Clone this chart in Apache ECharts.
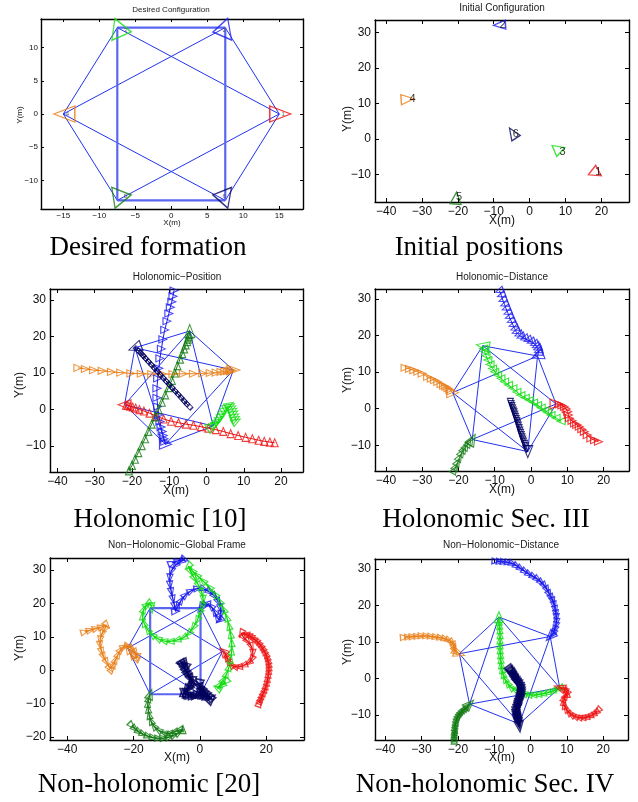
<!DOCTYPE html>
<html><head><meta charset="utf-8">
<script src="https://cdn.jsdelivr.net/npm/echarts@6/dist/echarts.min.js"></script>
<style>html,body{margin:0;padding:0;background:#fff}#c{width:638px;height:802px}</style>
</head><body><div id="c"></div>
<script>
// ---------------- DATA ----------------
const robotLabels = ['1','2','3','4','5','6'];
const panelTitles = ['Desired Configuration','Initial Configuration','Holonomic\u2212Position','Holonomic\u2212Distance','Non\u2212Holonomic\u2212Global Frame','Non\u2212Holonomic\u2212Distance'];
const captions = ['Desired formation','Initial positions','Holonomic [10]','Holonomic Sec. III','Non-holonomic [20]','Non-holonomic Sec. IV'];
const axisNameX = 'X(m)';
const axisNameY = 'Y(m)';
// formation graph edges (robot index pairs)
const edges = [[0,1],[1,2],[2,3],[3,4],[4,5],[5,0],[3,1],[3,5],[0,2],[0,4],[2,4],[1,5]];
// formation vertices (robots 1..6) per panel
const desiredPos = [[15,0],[7.5,13],[-7.5,13],[-15,0],[-7.5,-13],[7.5,-13]];
const initialPos = [[18.3,-8.8],[-8.4,32.1],[7.8,-3.5],[-34,11.2],[-20.5,-16.6],[-4.7,1.7]];
const holoPosFinal = [[-22,1.3],[-11,-9.5],[1.8,-4.5],[7.2,10.8],[-4.5,21.5],[-19.2,16.9]];
const holoDistFinal = [[6.9,1.3],[1.8,14.4],[-13.3,17.2],[-21.6,4.4],[-16.2,-8.4],[-0.9,-11.7]];
const nonHoloGlobalFinal = [[6.8,5.6],[0.2,18.6],[-15,18.6],[-21.8,6.6],[-15,-7.2],[0.2,-7.2]];
const nonHoloDistFinal = [[8,-2.5],[5.4,11.5],[-8.7,16.8],[-19.6,6.8],[-16.8,-7],[-3.1,-12.4]];

// Holonomic - Position trajectories
const hpRed = [[18.3,-9.1],[17,-8.9],[15.5,-8.7],[14,-8.4],[12.3,-8],[10.5,-7.6],[8.5,-7.1],[6.5,-6.6],[4.5,-6],[2.5,-5.5],[0.5,-5.1],[-1.5,-4.7],[-3.5,-4.3],[-5.5,-4],[-7.5,-3.6],[-9.5,-3.2],[-11.5,-2.6],[-13.5,-1.8],[-15.3,-1],[-16.8,-0.4],[-18,0],[-19,0.4],[-19.8,0.7],[-20.5,0.9],[-21.1,1.1],[-21.6,1.2],[-22,1.3]];
const hpBlue = [[-8.7,32.6],[-9,31],[-9.3,29.5],[-9.7,28],[-10.1,26.3],[-10.6,24.2],[-11.2,21.8],[-11.7,19.2],[-12.1,16.6],[-12.5,14],[-12.8,11.3],[-13.1,8.5],[-13.3,5.8],[-13.3,3.2],[-13.1,0.8],[-12.8,-1.5],[-12.5,-3.3],[-12.2,-4.8],[-11.9,-6],[-11.6,-7.1],[-11.4,-8],[-11.2,-8.8],[-11,-9.5]];
const hpGreen = [[8,-3.2],[7.8,-2.5],[7.6,-1.8],[7.3,-1],[7.1,-0.3],[6.8,0.4],[6.5,1],[6.1,1.3],[5.6,0.8],[5.1,0],[4.6,-0.9],[4.1,-1.7],[3.6,-2.5],[3.1,-3.2],[2.6,-3.8],[2.2,-4.2],[1.8,-4.5]];
const hpOrange = [[-34.5,11.4],[-32.5,11.1],[-30.3,10.8],[-28,10.6],[-25.5,10.3],[-23,10.1],[-20.3,9.9],[-17.5,9.8],[-14.7,9.7],[-11.8,9.7],[-9,9.7],[-6.2,9.8],[-3.5,9.8],[-1,9.9],[1,10],[2.6,10.1],[3.9,10.3],[4.9,10.4],[5.7,10.5],[6.3,10.6],[6.8,10.7],[7.2,10.8]];
const hpDkGreen = [[-20.8,-16.8],[-20,-15.3],[-19.2,-13.6],[-18.3,-11.8],[-17.4,-9.9],[-16.5,-8],[-15.6,-6],[-14.7,-4],[-13.8,-2],[-12.9,0],[-12,2],[-11.1,4],[-10.2,6],[-9.3,8],[-8.5,10],[-7.8,12],[-7.1,13.8],[-6.5,15.3],[-6,16.6],[-5.6,17.7],[-5.2,18.6],[-5,19.3],[-4.8,19.9],[-4.6,20.5],[-4.5,21.5]];
const hpNavy = [[-4.8,1],[-5.6,1.9],[-6.4,2.8],[-7.2,3.7],[-8,4.6],[-8.8,5.5],[-9.6,6.4],[-10.4,7.3],[-11.2,8.2],[-12,9.1],[-12.8,10],[-13.6,10.9],[-14.4,11.8],[-15.2,12.7],[-16,13.6],[-16.7,14.4],[-17.3,15.1],[-17.9,15.7],[-18.5,16.3],[-19.2,16.9]];

// Holonomic - Distance trajectories
const hdRed = [[18.6,-9],[17.5,-8.6],[16.5,-8.1],[15.5,-7.2],[14.7,-6.3],[14,-5.6],[13.3,-4.9],[12.6,-4.4],[12,-4],[11.3,-3.3],[10.6,-2.6],[10.3,-1.7],[10.1,-0.8],[9.7,-0.1],[9.2,0.5],[8.5,0.9],[7.8,1.2],[6.9,1.3]];
const hdBlue = [[-8.7,32.2],[-8.2,31],[-7.8,29.7],[-7.3,28.5],[-6.9,27.4],[-6.4,26.2],[-6,25.1],[-5.5,24],[-5,22.9],[-4.5,21.9],[-4.1,21],[-3.4,20.3],[-2.8,19.7],[-1.8,19.2],[-0.9,18.8],[0,18.3],[0.9,17.7],[1.4,17.1],[1.8,16.5],[2,15.8],[2,15.1],[1.8,14.4]];
const hdGreen = [[8.3,-3.4],[6.9,-2.5],[5.5,-1.7],[4.6,-1],[3.7,-0.4],[2.8,0.3],[1.8,1],[0.7,1.7],[-0.4,2.4],[-1.6,3],[-2.8,3.7],[-3.9,4.6],[-5,5.6],[-6.2,6.5],[-7.3,7.4],[-8.3,8.3],[-9.2,9.2],[-10,10.1],[-10.6,11],[-11.3,12.1],[-11.9,13.3],[-12.4,14.5],[-12.8,15.6],[-13.1,16.4],[-13.3,17.2]];
const hdOrange = [[-34.7,11.2],[-33.5,10.9],[-32.3,10.5],[-31.2,10.1],[-30,9.6],[-28.5,8.7],[-27.5,8.2],[-26.6,7.8],[-25.7,7.3],[-24.8,6.7],[-24.1,6.3],[-23.5,6],[-22.9,5.6],[-22.4,5.2],[-22,4.8],[-21.6,4.4]];
const hdDkGreen = [[-21.1,-16.7],[-20.7,-15.8],[-20.2,-14.6],[-19.7,-13.3],[-19.1,-12],[-18.5,-11],[-17.9,-10.2],[-17.2,-9.4],[-16.6,-8.8],[-16.2,-8.4]];
const hdNavy = [[-5.7,1.9],[-5.5,1.3],[-5.3,0.7],[-5.1,0.1],[-4.9,-0.5],[-4.7,-1],[-4.5,-1.6],[-4.3,-2.2],[-4.1,-2.8],[-3.9,-3.4],[-3.7,-4],[-3.5,-4.6],[-3.3,-5.3],[-3.1,-6],[-2.9,-6.6],[-2.7,-7.2],[-2.5,-7.8],[-2.3,-8.4],[-2.1,-9],[-1.8,-9.6],[-1.6,-10.2],[-1.2,-11],[-0.9,-11.7]];

// Non-holonomic - Global frame trajectories
const ngRed = [[17.9,-9.8],[18.2,-9],[18.5,-8.3],[18.9,-7.4],[19.3,-6.5],[19.7,-5.5],[20,-4.5],[20.3,-3.4],[20.5,-2.3],[20.7,-1.1],[20.8,0],[20.8,1],[20.7,2],[20.5,3],[20.2,4],[19.8,4.9],[19.3,5.8],[18.8,6.7],[18.2,7.5],[17.5,8.3],[16.8,9],[16,9.6],[15.2,10.2],[14.5,10.5],[13.7,10.8],[12.5,11],[13.2,9.8],[14.5,8.6],[15.6,7],[16,5],[15.6,3.2],[14.6,2.2],[13.1,1.4],[11.6,1],[10.3,1.1],[9.3,1.7],[8.6,2.8],[8.1,4],[7.6,5],[7,5.6]];
const ngBlue = [[-8.4,32.1],[-6.5,32.8],[-4.6,33.2],[-5.8,32.5],[-7.5,31.3],[-8.7,29.6],[-9.1,27.6],[-9,25.5],[-8.6,23.4],[-8.1,21.2],[-7.6,19.1],[-7.3,17.6],[-6.6,19.2],[-5.6,21],[-4.3,22.6],[-2.6,23.8],[-0.6,24.5],[1.3,24.3],[3,23.4],[4.5,22.1],[5.6,20.4],[6.2,18.5],[6.3,16.6],[6,15],[5.2,15.8],[4.4,17.6],[3.3,19.2],[2,19.9],[0.8,19.3],[0.3,18.6]];
const ngGreen = [[7.8,-3.5],[6.6,-4.6],[5.3,-5.4],[6.1,-4.3],[7.2,-2.8],[8.1,-1],[8.8,1],[9.3,3.3],[9.6,5.8],[9.6,8.3],[9.3,10.8],[8.8,13.3],[8.1,15.8],[7.2,18.2],[6,20.6],[4.5,22.8],[2.8,24.9],[0.9,26.8],[-1,28.5],[-2.4,29.9],[-3.5,31.2],[-2.8,29.5],[-1.6,27.4],[-0.3,25.3],[0.6,23.2],[1,21.2],[0.7,19.1],[0,17],[-0.8,14.9],[-2,12.8],[-3.4,11],[-5,9.7],[-7,9],[-9,8.6],[-11,8.8],[-12.8,9.5],[-14.4,10.6],[-15.8,12.2],[-16.9,14.2],[-17.3,16.3],[-16.9,18.3],[-15.9,19.6],[-14.8,19.9],[-14.6,18.6]];
const ngOrange = [[-34.7,11.5],[-33,12],[-31.2,12.5],[-29.5,13],[-28.1,13.5],[-28.8,12.2],[-29.6,10.8],[-30.1,9],[-30.1,7.5],[-29.6,5.5],[-29,4],[-28.1,2.3],[-27.1,0.5],[-26.5,0.3],[-26,1.8],[-25.4,3.2],[-24.6,4.8],[-23.8,6.2],[-22.8,7],[-21.6,7.2],[-20.4,6.4],[-19.4,5.2],[-18.8,3.8],[-19.5,3.5],[-20.5,4.6],[-21.6,6.5]];
const ngDkGreen = [[-20.5,-16.6],[-19.5,-17.6],[-18.3,-18.5],[-17,-19.2],[-15.5,-19.8],[-14,-20.2],[-12.4,-20.4],[-10.8,-20.3],[-9.2,-20],[-7.7,-19.4],[-6.3,-18.7],[-5.1,-17.8],[-6.3,-17.9],[-7.8,-18.5],[-9.4,-18.9],[-11,-18.7],[-12.6,-17.9],[-13.9,-16.7],[-14.8,-15.1],[-15.3,-13.4],[-15.6,-11.6],[-15.7,-9.9],[-15.4,-8.4],[-15,-7.2]];
const ngNavy = [[-4.7,1.7],[-5.5,2.3],[-5.2,1.6],[-4.8,1],[-4.4,0.2],[-4,-0.5],[-3.5,-1.3],[-3,-2],[-2.6,-2.8],[-2.2,-3.5],[-2.6,-4.2],[-3,-4.8],[-3.6,-5.4],[-4.2,-6],[-4.8,-7],[-4.2,-7.3],[-3.5,-7.5],[-2.8,-7.6],[-2,-7.6],[-1.2,-7.5],[-0.5,-7.4],[0.4,-7.6],[1.2,-7.8],[1.9,-8],[2.5,-8.3],[3.5,-8.6],[2.9,-7.9],[2.2,-7.2],[1.5,-6.5],[0.8,-5.8],[0.3,-5],[-0.2,-4.3],[0.2,-5.5],[0.5,-6.8]];

// Non-holonomic - Distance trajectories
const ndRed = [[18.4,-8.8],[17.8,-9.4],[17,-9.9],[16.1,-10.3],[15.1,-10.6],[14.1,-10.7],[13.1,-10.6],[12.1,-10.3],[11.2,-9.8],[10.4,-9.1],[9.7,-8.2],[9.2,-7.2],[9.1,-6.2],[9.3,-5.3],[9.8,-4.6],[10.1,-4],[9.8,-3.4],[9.2,-3],[8.6,-2.7],[8,-2.5]];
const ndBlue = [[-9.5,32.1],[-8.3,32],[-7.2,31.9],[-6,31.7],[-4.9,31.4],[-3.7,30.7],[-2.6,30],[-1.4,29.2],[-0.3,28.5],[0.9,27.8],[2,27.1],[3,26.2],[3.9,25.3],[4.6,24.2],[5.2,23],[5.8,22],[6.2,21.1],[6.5,20],[6.8,18.8],[7,17.6],[7.1,16.6],[7.1,15.4],[6.9,14.3],[6.6,13.3],[6.2,12.4],[5.8,11.9],[5.4,11.5]];
const ndGreen = [[8,-2.6],[7,-3],[5.8,-3.5],[4.5,-3.9],[3.2,-4.2],[1.9,-4.4],[0.6,-4.5],[-0.7,-4.4],[-2,-4.1],[-3.2,-3.6],[-4.4,-3],[-5.5,-2.3],[-6.4,-1.2],[-7.1,0],[-7.6,1.3],[-7.9,2.6],[-8.1,3.9],[-8.2,5.3],[-8.3,6.6],[-8.4,7.9],[-8.4,9.2],[-8.4,10.6],[-8.4,12],[-8.5,13.4],[-8.6,14.6],[-8.7,15.7],[-8.7,16.8]];
const ndOrange = [[-34.7,11.3],[-33.5,11.4],[-32.3,11.5],[-31,11.6],[-29.8,11.7],[-28.5,11.6],[-27.2,11.5],[-25.9,11.3],[-24.6,11.1],[-23.4,10.8],[-22.4,10.4],[-21.6,9.8],[-21.2,9],[-21.1,8.3],[-20.8,7.6],[-20.5,7.1],[-19.6,6.8]];
const ndDkGreen = [[-21,-16.8],[-21,-16.2],[-21,-15.6],[-20.9,-15],[-20.9,-14.4],[-20.8,-13.8],[-20.8,-13.2],[-20.6,-12.5],[-20.5,-11.8],[-20.3,-11.1],[-20,-10.5],[-19.7,-10],[-19.3,-9.5],[-18.9,-9.1],[-18.5,-8.7],[-18,-8.3],[-17.6,-7.9],[-17.2,-7.4],[-16.8,-7]];
const ndNavy = [[-5.5,2.3],[-5.2,1.9],[-5,1.6],[-4.7,1.2],[-4.5,0.8],[-4.2,0.4],[-4,0],[-3.7,-0.4],[-3.5,-0.8],[-3.2,-1.2],[-3,-1.7],[-2.8,-2.1],[-2.7,-2.6],[-2.7,-3.1],[-2.7,-3.6],[-2.8,-4.1],[-2.9,-4.6],[-3,-5.1],[-3.2,-5.6],[-3.3,-6.1],[-3.5,-6.6],[-3.6,-7.1],[-3.7,-7.6],[-3.8,-8.1],[-3.9,-8.6],[-3.9,-9.1],[-3.8,-9.6],[-3.7,-10.1],[-3.6,-10.6],[-3.5,-11],[-3.4,-11.4],[-3.3,-11.9],[-3.2,-12.3],[-3.1,-13.1]];

// ---------------- STYLE / LAYOUT ----------------
const robotColors = ['#ee1111','#1a1aee','#11dd11','#e8801a','#137a13','#00005e'];
const edgeColor = '#2233ee';
const FONT = "'Liberation Sans', Arial, Helvetica, sans-serif";
const SERIF = "'Liberation Serif', 'Times New Roman', serif";

const panels = [
  {left:41, top:19, width:262, height:190, xr:[-18.1,18.3], yr:[-14.3,14.3], xs:5, ys:5, fs:8, tx:171, ty:10, tfs:8, cx:148, cy:248, nx:172, ny:223, yx:20, yy:115},
  {left:375, top:20, width:254, height:182, xr:[-43.1,27.7], yr:[-17.7,33.5], xs:10, ys:10, fs:12, tx:502, ty:8, tfs:10, cx:479, cy:248, nx:502, ny:221, yx:348, yy:119},
  {left:50, top:289, width:253, height:183, xr:[-42.0,25.9], yr:[-17.1,33.0], xs:10, ys:10, fs:12, tx:177, ty:277, tfs:10, cx:160, cy:520, nx:176, ny:491, yx:20, yy:385},
  {left:375, top:289, width:254, height:182, xr:[-43.0,27.0], yr:[-17.0,32.7], xs:10, ys:10, fs:12, tx:502, ty:277, tfs:10, cx:486, cy:520, nx:502, ny:490, yx:348, yy:380},
  {left:50, top:558, width:254, height:182, xr:[-45.2,31.4], yr:[-20.9,33.6], xs:20, ys:10, fs:12, tx:177, ty:545, tfs:10, cx:149, cy:785, nx:177, ny:758, yx:20, yy:648},
  {left:375, top:559, width:253, height:181, xr:[-42.8,26.8], yr:[-16.8,32.7], xs:10, ys:10, fs:12, tx:501, ty:545, tfs:10, cx:485, cy:785, nx:502, ny:758, yx:348, yy:652}
];

const grid = [], xAxis = [], yAxis = [], series = [], graphic = [];

function fmt(step) {
  return function (v) {
    const r = Math.round(v / step) * step;
    if (Math.abs(v - r) > 1e-6) return '';
    return r < 0 ? '\u2212' + (-r) : String(r);
  };
}

panels.forEach((p, gi) => {
  grid.push({left:p.left, top:p.top, width:p.width, height:p.height, containLabel:false});
  const tickLen = gi === 0 ? 3 : 4;
  const base = (min, max, step) => ({
    type:'value', gridIndex:gi, min:min, max:max,
    splitNumber: Math.round((max - min) / step),
    axisLine:{show:true, onZero:false, lineStyle:{color:'#000', width:1.4}},
    axisTick:{show:true, inside:true, length:tickLen, lineStyle:{color:'#000', width:1}},
    splitLine:{show:false}
  });
  const lbl = step => ({show:true, formatter:fmt(step), fontSize:p.fs, color:'#111', fontFamily:FONT, margin: gi === 0 ? 3 : 4});
  xAxis.push(Object.assign(base(p.xr[0], p.xr[1], p.xs), {position:'bottom', axisLabel:lbl(p.xs)}));
  xAxis.push(Object.assign(base(p.xr[0], p.xr[1], p.xs), {position:'top', axisLabel:{show:false}}));
  yAxis.push(Object.assign(base(p.yr[0], p.yr[1], p.ys), {position:'left', axisLabel:lbl(p.ys)}));
  yAxis.push(Object.assign(base(p.yr[0], p.yr[1], p.ys), {position:'right', axisLabel:{show:false}}));

  graphic.push({type:'text', x:p.tx, y:p.ty, silent:true, z:10, style:{text:panelTitles[gi], font:p.tfs + 'px ' + FONT, fill:'#1a1a1a', textAlign:'center', textVerticalAlign:'middle'}});
  graphic.push({type:'text', x:p.nx, y:p.ny, silent:true, z:10, style:{text:axisNameX, font:p.fs + 'px ' + FONT, fill:'#111', textAlign:'center', textVerticalAlign:'middle'}});
  graphic.push({type:'text', x:p.yx, y:p.yy, rotation:Math.PI / 2, silent:true, z:10, style:{text:axisNameY, font:p.fs + 'px ' + FONT, fill:'#111', textAlign:'center', textVerticalAlign:'middle'}});
  graphic.push({type:'text', x:p.cx, y:p.cy, silent:true, z:11, style:{text:captions[gi], font:'27px ' + SERIF, fill:'#000', textAlign:'center', textVerticalAlign:'middle'}});
});

const rectEdges = ['1-2','2-4','4-5','5-1'];
function addEdges(gi, pos, rectWide) {
  edges.forEach(e => {
    const key = e[0] + '-' + e[1], key2 = e[1] + '-' + e[0];
    const wide = rectWide && (rectEdges.indexOf(key) >= 0 || rectEdges.indexOf(key2) >= 0);
    series.push({type:'line', xAxisIndex:2*gi, yAxisIndex:2*gi, data:[pos[e[0]], pos[e[1]]],
      symbol:'none', silent:true, animation:false, z:2,
      lineStyle:{color: wide ? '#5a66f2' : edgeColor, width: wide ? 2.2 : 1}});
  });
}

function heading(pts, i) {
  const n = pts.length;
  const a = pts[Math.max(0, i - 1)], b = pts[Math.min(n - 1, i + 1)];
  return Math.atan2(b[1] - a[1], b[0] - a[0]) * 180 / Math.PI - 90;
}

function addTraj(gi, pts, color, m) {
  const n = pts.length;
  series.push({type:'line', xAxisIndex:2*gi, yAxisIndex:2*gi, data:pts, symbol:'none', silent:true,
    animation:false, z:3, lineStyle:{color:color, width:m.lw || 1}});
  series.push({type:'scatter', xAxisIndex:2*gi, yAxisIndex:2*gi, data:pts, silent:true, animation:false, z:4,
    symbol:(v, prm) => prm.dataIndex === n - 1 ? 'triangle' : (m.sym || 'triangle'),
    symbolSize:(v, prm) => prm.dataIndex === n - 1 ? m.endSize : m.size,
    symbolRotate:(v, prm) => {
      const i = prm.dataIndex;
      if (i === n - 1 && m.endRot !== undefined) return m.endRot;
      return m.rot === 'heading' ? heading(pts, i) : m.rot;
    },
    itemStyle:{color:'rgba(0,0,0,0)', borderColor:color, borderWidth:m.bw || 1}});
}

// Panel 1: desired configuration
addEdges(0, desiredPos, true);
const p1Rot = [-90, 100, -98, 90, -81, 80];
const p1Size = [[16,21],[22,17],[22,18],[16,21],[21,18],[21,17]];
const p1Off = [[1,0],[-4,3],[5,3],[1,0],[5,-4],[-4,-4]];
desiredPos.forEach((pt, r) => {
  series.push({type:'scatter', xAxisIndex:0, yAxisIndex:0, data:[pt], silent:true, animation:false, z:4,
    symbol:'triangle', symbolSize:p1Size[r], symbolRotate:p1Rot[r], symbolOffset:p1Off[r],
    itemStyle:{color:'rgba(0,0,0,0)', borderColor:robotColors[r], borderWidth:1.4},
    label:{show:true, formatter:robotLabels[r], position:'inside', fontSize:6, color:'#444', fontFamily:FONT, offset:[3,0]}});
});

// Panel 2: initial configuration
const p2Rot = [-5, 93, 170, -86, -5, 33];
const p2Size = [[13,10],[9,12],[13,10],[10,13],[11,12],[10,12]];
const p2LblOff = [[3,2],[3,0],[5,0],[5,0],[3,-1],[3,1]];
initialPos.forEach((pt, r) => {
  series.push({type:'scatter', xAxisIndex:2, yAxisIndex:2, data:[pt], silent:true, animation:false, z:4,
    symbol:'triangle', symbolSize:p2Size[r], symbolRotate:p2Rot[r],
    itemStyle:{color:'rgba(0,0,0,0)', borderColor:robotColors[r], borderWidth:1.3},
    label:{show:true, formatter:robotLabels[r], position:'inside', fontSize:11, color:'#000', fontFamily:FONT, offset:p2LblOff[r]}});
});

// Panel 3: holonomic position
addEdges(2, holoPosFinal, false);
addTraj(2, hpOrange, robotColors[3], {rot:-90, size:[7,8], endSize:[10,13], endRot:-90, bw:1.1});
addTraj(2, hpRed, robotColors[0], {rot:0, size:[7,8], endSize:[10,13], endRot:90, bw:1.1});
addTraj(2, hpBlue, robotColors[1], {rot:-90, size:[7,8], endSize:[10,12], endRot:-90, bw:1.1});
addTraj(2, hpDkGreen, robotColors[4], {rot:0, size:[7,8], endSize:[10,13], endRot:0, bw:1.1});
addTraj(2, hpNavy, robotColors[5], {rot:45, sym:'rect', size:[4,8], endSize:[11,13], endRot:110, bw:1.1});
addTraj(2, hpGreen, robotColors[2], {rot:-60, size:[7,9], endSize:[10,13], endRot:-60, bw:1.1});

// Panel 4: holonomic distance
addEdges(3, holoDistFinal, false);
addTraj(3, hdBlue, robotColors[1], {rot:110, size:[7,8], endSize:[10,12], endRot:110, bw:1.1});
addTraj(3, hdOrange, robotColors[3], {rot:-90, size:[7,8], endSize:[10,12], endRot:-90, bw:1.1});
addTraj(3, hdGreen, robotColors[2], {rot:90, size:[7,8], endSize:[10,13], endRot:80, bw:1.1});
addTraj(3, hdRed, robotColors[0], {rot:-90, size:[7,8], endSize:[10,12], endRot:-90, bw:1.1});
addTraj(3, hdNavy, robotColors[5], {rot:180, size:[6,7], endSize:[10,12], endRot:180, bw:1.1});
addTraj(3, hdDkGreen, robotColors[4], {rot:-30, size:[7,8], endSize:[10,12], endRot:-30, bw:1.1});

// Panel 5: non-holonomic global frame
addEdges(4, nonHoloGlobalFinal, true);
addTraj(4, ngRed, robotColors[0], {rot:'heading', size:[6,8], endSize:[9,9], bw:1.2, lw:1.3});
addTraj(4, ngBlue, robotColors[1], {rot:'heading', size:[6,8], endSize:[8,10], bw:1.2, lw:1.3});
addTraj(4, ngGreen, robotColors[2], {rot:'heading', size:[6,8], endSize:[8,10], bw:1.2, lw:1.3});
addTraj(4, ngOrange, robotColors[3], {rot:'heading', size:[6,8], endSize:[8,10], bw:1.2, lw:1.3});
addTraj(4, ngDkGreen, robotColors[4], {rot:'heading', size:[6,8], endSize:[8,10], bw:1.2, lw:1.3});
addTraj(4, ngNavy, robotColors[5], {rot:'heading', size:[8,10], endSize:[8,10], bw:1.5, lw:2});

// Panel 6: non-holonomic distance
addEdges(5, nonHoloDistFinal, false);
addTraj(5, ndBlue, robotColors[1], {rot:'heading', size:[6,8], endSize:[9,11], bw:1.2, lw:1.3});
addTraj(5, ndOrange, robotColors[3], {rot:'heading', size:[6,8], endSize:[9,11], bw:1.2, lw:1.3});
addTraj(5, ndGreen, robotColors[2], {rot:'heading', size:[6,8], endSize:[9,11], bw:1.2, lw:1.3});
addTraj(5, ndRed, robotColors[0], {rot:'heading', size:[6,8], endSize:[9,11], bw:1.2, lw:1.3});
addTraj(5, ndNavy, robotColors[5], {rot:'heading', size:[8,10], endSize:[9,11], bw:1.5, lw:2});
addTraj(5, ndDkGreen, robotColors[4], {rot:'heading', size:[6,8], endSize:[9,11], bw:1.2, lw:1.3});

const chart = echarts.init(document.getElementById('c'), null, {renderer:'canvas'});
chart.setOption({
  animation:false,
  backgroundColor:'#fff',
  grid: grid, xAxis: xAxis, yAxis: yAxis, series: series, graphic: graphic
});
</script>
</body></html>
